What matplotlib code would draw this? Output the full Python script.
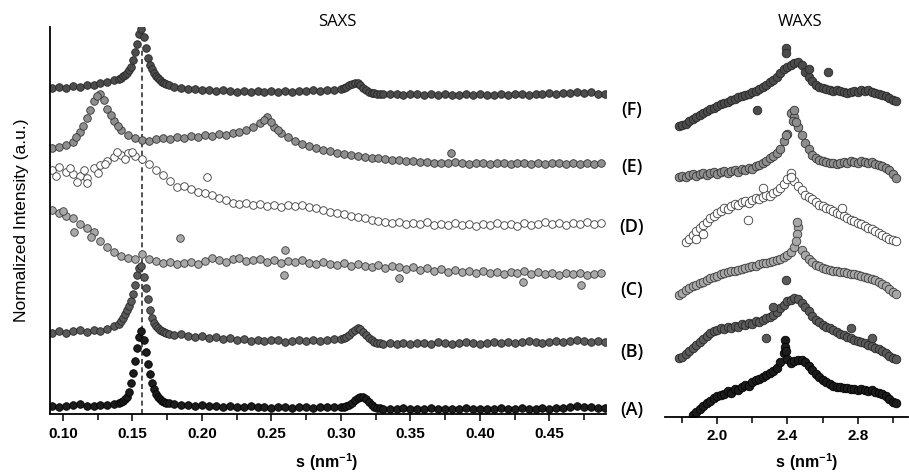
import matplotlib.pyplot as plt
import numpy as np

plt.rcParams['font.family'] = ['Liberation Sans', 'DejaVu Sans']
plt.rcParams['mathtext.fontset'] = 'custom'
plt.rcParams['mathtext.rm'] = 'Liberation Sans'
plt.rcParams['mathtext.bf'] = 'Liberation Sans:bold'

# ---------------- SAXS data (intensity in arbitrary, stacked units) ----------------
# sampling for the sharp-peaked samples A, B, F
s_peak = [0.092, 0.097, 0.102, 0.107, 0.112, 0.117, 0.122, 0.127, 0.132, 0.137,
          0.1400, 0.1415, 0.1430, 0.1445, 0.1460, 0.1475, 0.1490, 0.1505, 0.1520, 0.1535,
          0.1550, 0.1565, 0.1580, 0.1595, 0.1610, 0.1625, 0.1640, 0.1655, 0.1670, 0.1685,
          0.1700, 0.1715, 0.1730, 0.1745, 0.1760,
          0.180, 0.185, 0.190, 0.195, 0.200, 0.205, 0.210, 0.215, 0.220, 0.225,
          0.230, 0.235, 0.240, 0.245, 0.250, 0.255, 0.260, 0.265, 0.270, 0.275,
          0.280, 0.285, 0.290, 0.295,
          0.300, 0.302, 0.304, 0.306, 0.308, 0.310, 0.312, 0.314, 0.316, 0.318,
          0.320, 0.322, 0.324, 0.326, 0.328, 0.330,
          0.335, 0.340, 0.345, 0.350, 0.355, 0.360, 0.365, 0.370, 0.375, 0.380,
          0.385, 0.390, 0.395, 0.400, 0.405, 0.410, 0.415, 0.420, 0.425, 0.430,
          0.435, 0.440, 0.445, 0.450, 0.455, 0.460, 0.465, 0.470, 0.475, 0.480,
          0.485, 0.490]

saxs_A = [8, 7, 8, 9, 10, 8, 8, 9, 9, 10,
          11, 12, 13, 15, 17, 22, 31, 41, 53, 66,
          77, 83, 74, 62, 50, 40, 31, 25, 20, 17,
          15, 13, 12, 11, 11,
          10, 9, 9, 8, 9, 8, 8, 7, 8, 7,
          7, 8, 7, 7, 6, 7, 7, 6, 7, 7,
          6, 7, 7, 7,
          7, 7, 8, 9, 11, 14, 16, 17, 17, 15,
          12, 9, 7, 6, 6, 5,
          5, 5, 6, 5, 5, 5, 6, 5, 5, 5,
          5, 6, 5, 5, 5, 5, 6, 5, 5, 6,
          5, 5, 6, 5, 6, 6, 7, 8, 7, 7,
          6, 6]

saxs_B = [81, 83, 81, 83, 84, 82, 84, 83, 85, 88,
          90, 93, 96, 100, 104, 108, 113, 120, 129, 139,
          146, 148, 137, 126, 115, 104, 96, 91, 88, 86,
          84, 83, 82, 81, 80,
          79, 80, 78, 77, 78, 76, 77, 75, 76, 74,
          75, 73, 74, 73, 74, 74, 72, 73, 74, 73,
          74, 73, 74, 75,
          75, 76, 77, 79, 82, 84, 86, 85, 82, 79,
          76, 74, 72, 71, 71, 70,
          71, 70, 71, 70, 71, 71, 70, 72, 71, 70,
          71, 72, 71, 70, 71, 72, 71, 72, 71, 72,
          73, 72, 71, 72, 73, 72, 73, 74, 73, 72,
          73, 72]

saxs_F = [326, 327, 326, 328, 327, 329, 329, 331, 332, 334,
          335, 336, 338, 339, 341, 344, 347, 354, 362, 370,
          380, 385, 377, 366, 356, 349, 345, 341, 338, 336,
          334, 332, 331, 330, 329,
          327, 326, 325, 325, 324, 324, 323, 324, 323, 322,
          323, 322, 323, 322, 323, 322, 323, 322, 323, 323,
          324, 323, 324, 324,
          325, 326, 327, 329, 330, 331, 331, 329, 326, 324,
          322, 321, 321, 320, 320, 320,
          320, 320, 319, 320, 320, 319, 320, 319, 320, 319,
          319, 320, 319, 320, 319, 319, 320, 319, 320, 320,
          319, 320, 320, 321, 320, 321, 321, 322, 321, 322,
          320, 320]

# sampling for the broad samples C, D, E
s_broad = [0.092, 0.097, 0.102, 0.107, 0.112, 0.117, 0.122, 0.127, 0.132, 0.137,
           0.142, 0.147, 0.152, 0.157, 0.162, 0.167, 0.172, 0.177, 0.182, 0.187,
           0.192, 0.197, 0.202, 0.207, 0.212, 0.217, 0.222, 0.227, 0.232, 0.237,
           0.242, 0.247, 0.252, 0.257, 0.262, 0.267, 0.272, 0.277, 0.282, 0.287,
           0.292, 0.297, 0.302, 0.307, 0.312, 0.317, 0.322, 0.327, 0.332, 0.337,
           0.342, 0.347, 0.352, 0.357, 0.362, 0.367, 0.372, 0.377, 0.382, 0.387,
           0.392, 0.397, 0.402, 0.407, 0.412, 0.417, 0.422, 0.427, 0.432, 0.437,
           0.442, 0.447, 0.452, 0.457, 0.462, 0.467, 0.472, 0.477, 0.482, 0.487]

saxs_C = [204, 201, 198, 196, 190, 186, 182, 173, 167, 162,
          158, 156, 155, 160, 155, 153, 151, 152, 150, 151,
          152, 150, 153, 156, 154, 152, 155, 156, 153, 154,
          155, 152, 154, 151, 153, 152, 154, 151, 150, 152,
          150, 149, 151, 148, 150, 148, 147, 149, 146, 148,
          147, 145, 147, 144, 146, 143, 145, 142, 144, 142,
          143, 141, 143, 141, 142, 140, 142, 141, 143, 140,
          142, 140, 141, 139, 141, 140, 141, 139, 140, 141]

saxs_D = [244, 247, 242, 240, 238, 236, 246, 249, 253, 257,
          259, 261, 258, 255, 250, 244, 239, 233, 227, 228,
          225, 222, 221, 219, 216, 214, 211, 210, 211, 209,
          210, 208, 209, 207, 209, 208, 209, 207, 206, 204,
          202, 201, 200, 198, 197, 196, 194, 193, 192, 191,
          192, 190, 191, 190, 192, 189, 190, 189, 191, 189,
          190, 188, 190, 189, 191, 189, 190, 188, 191, 189,
          190, 192, 190, 191, 189, 191, 190, 192, 190, 191]

saxs_E = [266, 267, 269, 272, 282, 296, 313, 320, 305, 293,
          284, 279, 276, 274, 273, 275, 276, 275, 277, 276,
          278, 277, 279, 278, 280, 279, 281, 282, 284, 287,
          291, 297, 287, 281, 277, 273, 270, 268, 266, 264,
          263, 261, 260, 259, 258, 257, 256, 256, 255, 254,
          254, 253, 253, 252, 252, 251, 251, 251, 252, 251,
          250, 251, 251, 250, 251, 251, 250, 251, 251, 250,
          251, 250, 251, 251, 250, 251, 250, 251, 250, 251]

# extra / stray points read between and off the main trend
C_out_s = [0.100, 0.108, 0.120, 0.184, 0.259, 0.260, 0.342, 0.431, 0.473]
C_out_h = [203, 182, 177, 176, 139, 164, 136, 132, 129]
D_out_s = [0.095, 0.105, 0.110, 0.115, 0.117, 0.125, 0.130, 0.139, 0.145, 0.150, 0.204]
D_out_h = [238, 246, 232, 244, 231, 241, 250, 262, 255, 262, 237]
E_out_s = [0.1095, 0.1145, 0.1195, 0.1245, 0.1295, 0.1345, 0.1395,
           0.2445, 0.2495, 0.2545, 0.379]
E_out_h = [277, 288, 304, 318, 314, 299, 288, 294, 292, 284, 261]

dash_s = 0.157
dash_top = 367

# ---------------- WAXS data ----------------
s_waxs = [1.78, 1.80, 1.82, 1.84, 1.86, 1.88, 1.90, 1.92, 1.94, 1.96,
          1.98, 2.00, 2.02, 2.04, 2.06, 2.08, 2.10, 2.12, 2.14, 2.16,
          2.18, 2.20, 2.22, 2.24, 2.26, 2.28, 2.30, 2.32, 2.34, 2.36,
          2.38, 2.40, 2.42, 2.44, 2.46, 2.48, 2.50, 2.52, 2.54, 2.56,
          2.58, 2.60, 2.62, 2.64, 2.66, 2.68, 2.70, 2.72, 2.74, 2.76,
          2.78, 2.80, 2.82, 2.84, 2.86, 2.88, 2.90, 2.92, 2.94, 2.96,
          2.98, 3.00, 3.02]
nan = np.nan
waxs_A = [nan, nan, nan, nan, 2, 5, 8, 11, 14, 16,
          19, 21, 22, 23, 26, 24, 28, 27, 30, 32,
          31, 35, 37, 38, 40, 42, 44, 46, 49, 55,
          64, 58, 54, 56, 57, 57, 55, 51, 47, 43,
          40, 37, 35, 33, 31, 30, 30, 29, 29, 28,
          28, 27, 28, 27, 26, 27, 25, 24, 23, 21,
          18, 15, 14]
waxs_B = [59, 60, 63, 66, 69, 72, 75, 78, 81, 84,
          86, 87, 89, 88, 90, 89, 91, 90, 93, 92,
          94, 93, 96, 95, 97, 99, 100, 102, 105, 109,
          112, 116, 117, 119, 118, 114, 110, 106, 101, 97,
          95, 92, 90, 89, 87, 85, 83, 82, 80, 79,
          77, 76, 75, 74, 72, 71, 69, 68, 66, 64,
          61, 59, 58]
waxs_C = [122, 124, 127, 129, 131, 132, 134, 135, 137, 139,
          140, 141, 143, 144, 145, 146, 146, 147, 148, 149,
          150, 151, 151, 153, 154, 154, 155, 156, 157, 158,
          160, 162, 165, 170, 190, 167, 162, 158, 155, 152,
          151, 149, 148, 147, 146, 146, 145, 145, 144, 143,
          143, 142, 141, 140, 139, 138, 137, 135, 133, 131,
          128, 125, 123]
waxs_D = [nan, nan, 175, 178, 182, 186, 189, 192, 195, 199,
          201, 204, 206, 209, 208, 211, 213, 212, 215, 216,
          214, 217, 219, 218, 220, 222, 221, 224, 226, 229,
          233, 238, 244, 236, 231, 227, 222, 220, 218, 215,
          212, 211, 209, 208, 206, 204, 203, 201, 199, 197,
          196, 194, 193, 191, 189, 188, 186, 184, 182, 180,
          178, 177, 176]
waxs_E = [240, 241, 240, 242, 243, 241, 243, 244, 242, 244,
          245, 243, 245, 246, 244, 246, 247, 245, 248, 247,
          249, 248, 251, 252, 254, 256, 259, 261, 264, 268,
          276, 283, 304, 300, 290, 282, 274, 268, 262, 259,
          257, 256, 255, 254, 254, 253, 254, 255, 254, 256,
          255, 254, 256, 255, 254, 255, 253, 252, 251, 249,
          247, 243, 239]
waxs_F = [291, 292, 293, 296, 298, 300, 302, 304, 306, 308,
          309, 311, 313, 314, 315, 317, 318, 320, 321, 322,
          323, 325, 326, 328, 330, 332, 335, 337, 340, 344,
          348, 350, 352, 354, 355, 352, 345, 340, 336, 332,
          330, 329, 328, 327, 326, 327, 326, 325, 324, 325,
          326, 325, 327, 326, 327, 325, 324, 323, 322, 321,
          319, 317, 316]

wA_out_s = [2.385, 2.385, 2.39]
wA_out_h = [77, 70, 66]
wB_out_s = [2.39, 2.28, 2.32, 2.76, 2.88]
wB_out_h = [137, 79, 110, 89, 79]
wC_out_s = [2.455, 2.455, 2.45]
wC_out_h = [195, 183, 176]
wD_out_s = [1.88, 1.92, 2.175, 2.26, 2.42, 2.71]
wD_out_h = [178, 183, 197, 229, 240, 209]
wE_out_s = [2.39, 2.44, 2.43, 2.45]
wE_out_h = [282, 307, 296, 295]
wF_out_s = [2.394, 2.394, 2.225, 2.52, 2.63]
wF_out_h = [369, 364, 307, 348, 345]

labels = ['(A)', '(B)', '(C)', '(D)', '(E)', '(F)']
label_y = [410, 352, 290, 227, 167, 110]   # pixel rows of the side labels

face = {'A': '#1c1c1c', 'B': '#5a5a5a', 'C': '#a8a8a8',
        'D': '#ffffff', 'E': '#8e8e8e', 'F': '#4c4c4c'}
edge = {'A': '#000000', 'B': '#262626', 'C': '#3a3a3a',
        'D': '#3a3a3a', 'E': '#333333', 'F': '#262626'}

W, H = 909, 476
fig = plt.figure(figsize=(W / 100, H / 100), dpi=100)


def px_axes(x0, x1, ytop, ybot):
    return fig.add_axes([x0 / W, 1 - ybot / H, (x1 - x0) / W, (ybot - ytop) / H])


ax1 = px_axes(50, 606, 27, 414)
ax2 = px_axes(665, 908, 27, 417)
ax1.set_xlim(0.0907, 0.4907)
ax1.set_ylim(0, 387)
ax2.set_xlim(1.703, 3.086)
ax2.set_ylim(0, 390)

ax1.plot([dash_s, dash_s], [0, dash_top], ls=(0, (3, 2)), color='#333333', lw=1.2, zorder=1)

ms_s = 30
ms_w = 38
saxs = [('A', s_peak, saxs_A, [], []), ('B', s_peak, saxs_B, [], []),
        ('C', s_broad, saxs_C, C_out_s, C_out_h), ('D', s_broad, saxs_D, D_out_s, D_out_h),
        ('E', s_broad, saxs_E, E_out_s, E_out_h), ('F', s_peak, saxs_F, [], [])]
for key, xs, ys, ox, oy in saxs:
    ax1.scatter(list(xs) + ox, list(ys) + oy, s=ms_s, c=face[key], edgecolors=edge[key],
                linewidths=0.6, zorder=2)

waxs = [('A', waxs_A, wA_out_s, wA_out_h), ('B', waxs_B, wB_out_s, wB_out_h),
        ('C', waxs_C, wC_out_s, wC_out_h), ('D', waxs_D, wD_out_s, wD_out_h),
        ('E', waxs_E, wE_out_s, wE_out_h), ('F', waxs_F, wF_out_s, wF_out_h)]
for key, ys, ox, oy in waxs:
    ax2.scatter(s_waxs + ox, list(ys) + oy, s=ms_w, c=face[key], edgecolors=edge[key],
                linewidths=0.6, zorder=2)

# axes styling
for ax in (ax1, ax2):
    ax.spines['top'].set_visible(False)
    ax.spines['right'].set_visible(False)
    ax.spines['bottom'].set_linewidth(1.3)
    ax.set_yticks([])
    ax.tick_params(axis='x', which='major', direction='out', length=5, width=1.1, pad=4)
    ax.tick_params(axis='x', which='minor', direction='out', length=4, width=1.1)
ax1.spines['left'].set_linewidth(1.3)
ax2.spines['left'].set_visible(False)

ax1.set_xticks([0.10, 0.15, 0.20, 0.25, 0.30, 0.35, 0.40, 0.45])
ax1.set_xticklabels(['0.10', '0.15', '0.20', '0.25', '0.30', '0.35', '0.40', '0.45'],
                    fontsize=11, fontweight='bold')
ax1.set_xticks([0.125, 0.175, 0.225, 0.275, 0.325, 0.375, 0.425, 0.475], minor=True)
ax2.set_xticks([2.0, 2.4, 2.8])
ax2.set_xticklabels(['2.0', '2.4', '2.8'], fontsize=11, fontweight='bold')
ax2.set_xticks([1.8, 2.2, 2.6, 3.0], minor=True)


def ftext(x, y, s, **kw):
    fig.text(x / W, 1 - y / H, s, ha='center', va='center', **kw)


ftext(327, 462, r'$\mathbf{s\ (nm^{-1})}$', fontsize=11.5)
ftext(807, 462, r'$\mathbf{s\ (nm^{-1})}$', fontsize=11.5)
ftext(22, 220, 'Normalized Intensity (a.u.)', fontsize=12.5, rotation=90)
ftext(337, 22, 'SAXS', fontsize=12, family=['Open Sans', 'DejaVu Sans'])
ftext(800, 22, 'WAXS', fontsize=12, family=['Open Sans', 'DejaVu Sans'])
for lab, y in zip(labels, label_y):
    ftext(632, y, lab, fontsize=13, fontweight='semibold', family=['Open Sans', 'DejaVu Sans'])

fig.savefig('out.png', dpi=100)
